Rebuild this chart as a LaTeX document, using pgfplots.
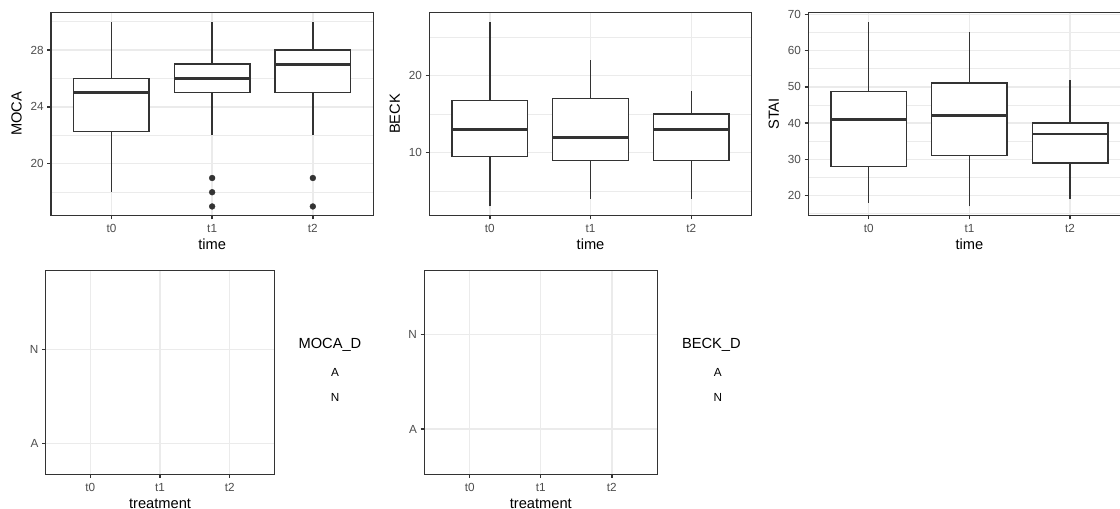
\documentclass[border=0pt]{standalone}
\usepackage{fontspec}
\setmainfont{Liberation Sans}
\usepackage{pgfplots}
\usepackage{pgfplotstable}
\pgfplotsset{compat=1.18}
\definecolor{grey20}{HTML}{333333}
\definecolor{grey30}{HTML}{4D4D4D}
\definecolor{grey92}{HTML}{EBEBEB}

\newcommand{\ticksize}{\fontsize{8.8}{10}\selectfont}
\newcommand{\titlesize}{\fontsize{11}{13}\selectfont}

% box statistics per time point
\pgfplotstableread{
x lo q1 med q3 hi
1 18 22.25 25 26 30
2 22 25 26 27 30
3 22 25 27 28 30
}\moca
\pgfplotstableread{
x lo q1 med q3 hi
1 3 9.5 13 16.75 27
2 4 9 12 17 22
3 4 9 13 15 18
}\beck
\pgfplotstableread{
x lo q1 med q3 hi
1 18 28 41 48.75 68
2 17 31 42 51 65
3 19 29 37 40 52
}\stai

\pgfplotsset{
  gg/.style={
    scale only axis,
    anchor=north west,
    axis line style={draw=grey20, line width=1.07pt},
    tick style={draw=grey20, line width=1.07pt},
    tick align=outside, major tick length=2.75pt, minor tick length=0pt,
    tick pos=left,
    xtick={1,2,3}, xticklabels={t0,t1,t2},
    xmajorgrids, ymajorgrids,
    major grid style={draw=grey92, line width=1.07pt},
    minor grid style={draw=grey92, line width=0.53pt},
    /pgf/number format/assume math mode=true,
    tick label style={font=\ticksize, text=grey30, inner sep=0pt},
    xticklabel style={anchor=base, yshift=-9.8pt},
    yticklabel style={anchor=east, xshift=-2.6pt},
    every axis x label/.style={at={(rel axis cs:0.5,0)}, yshift=-25.3pt, anchor=base, font=\titlesize},
    every axis y label/.style={at={(rel axis cs:0,0.5)}, xshift=-25.9pt, rotate=90, anchor=center, font=\titlesize},
  },
  toprow/.style={gg, width=241.7pt, height=152.55pt, xmin=0.4, xmax=3.6, yminorgrids, xlabel={time}},
  botrow/.style={gg, height=152.7pt, xmin=0.36, xmax=3.64, ytick={1,2}, yticklabels={A,N}, xlabel={treatment}},
  whisk/.style={draw=none, mark=none, error bars/.cd, y dir=plus, y explicit, error mark=none,
    error bar style={draw=grey20, solid, line width=1.07pt}},
  med/.style={draw=none, mark=none, error bars/.cd, x dir=both, x fixed=0.375, error mark=none,
    error bar style={draw=grey20, solid, line width=2.13pt}},
  bx/.style={fill=white, draw=grey20, line width=1.07pt, line join=miter, line cap=rect, mark=none},
  outl/.style={only marks, mark=*, mark size=2.2pt, mark options={draw=grey20, fill=grey20, line width=0.3pt}},
}

\begin{document}
\begin{tikzpicture}
% MOCA
\begin{axis}[toprow, at={(38.25pt,-9.225pt)}, ymin=16.35, ymax=30.65,
  ytick={20,24,28}, minor ytick={18,22,26,30}, ylabel={MOCA}]
\addplot[whisk] table[x=x, y=lo, y error expr=\thisrow{hi}-\thisrow{lo}] {\moca};
\addplot[bx] coordinates {(0.625,22.25) (1.375,22.25) (1.375,26) (0.625,26) (0.625,22.25)};
\addplot[bx] coordinates {(1.625,25) (2.375,25) (2.375,27) (1.625,27) (1.625,25)};
\addplot[bx] coordinates {(2.625,25) (3.375,25) (3.375,28) (2.625,28) (2.625,25)};
\addplot[med] table[x=x, y=med] {\moca};
\addplot[outl] coordinates {(2,19) (2,18) (2,17) (3,19) (3,17)};
\end{axis}
% BECK
\begin{axis}[toprow, at={(322.05pt,-9.225pt)}, ymin=1.8, ymax=28.2,
  ytick={10,20}, minor ytick={5,15,25}, ylabel={BECK}]
\addplot[whisk] table[x=x, y=lo, y error expr=\thisrow{hi}-\thisrow{lo}] {\beck};
\addplot[bx] coordinates {(0.625,9.5) (1.375,9.5) (1.375,16.75) (0.625,16.75) (0.625,9.5)};
\addplot[bx] coordinates {(1.625,9) (2.375,9) (2.375,17) (1.625,17) (1.625,9)};
\addplot[bx] coordinates {(2.625,9) (3.375,9) (3.375,15) (2.625,15) (2.625,9)};
\addplot[med] table[x=x, y=med] {\beck};
\end{axis}
% STAI
\begin{axis}[toprow, at={(606.2pt,-9.225pt)}, ymin=14.45, ymax=70.55,
  ytick={20,30,40,50,60,70}, minor ytick={15,25,35,45,55,65}, ylabel={STAI}]
\addplot[whisk] table[x=x, y=lo, y error expr=\thisrow{hi}-\thisrow{lo}] {\stai};
\addplot[bx] coordinates {(0.625,28) (1.375,28) (1.375,48.75) (0.625,48.75) (0.625,28)};
\addplot[bx] coordinates {(1.625,31) (2.375,31) (2.375,51) (1.625,51) (1.625,31)};
\addplot[bx] coordinates {(2.625,29) (3.375,29) (3.375,40) (2.625,40) (2.625,29)};
\addplot[med] table[x=x, y=med] {\stai};
\end{axis}
% MOCA_D
\begin{axis}[botrow, at={(34.3pt,-203.0pt)}, width=171.45pt, ymin=0.673, ymax=2.841]
\end{axis}
\node[anchor=base west, inner sep=0pt, font=\titlesize] at (223.7pt,-261.75pt) {MOCA\_D};
\node[anchor=base, inner sep=0pt, font=\ticksize] at (251.25pt,-282pt) {A};
\node[anchor=base, inner sep=0pt, font=\ticksize] at (251.25pt,-301pt) {N};
% BECK_D
\begin{axis}[botrow, at={(318.2pt,-203.0pt)}, width=174.75pt, ymin=0.522, ymax=2.672]
\end{axis}
\node[anchor=base west, inner sep=0pt, font=\titlesize] at (511.3pt,-261.75pt) {BECK\_D};
\node[anchor=base, inner sep=0pt, font=\ticksize] at (538.3pt,-282pt) {A};
\node[anchor=base, inner sep=0pt, font=\ticksize] at (538.3pt,-301pt) {N};
\pgfresetboundingbox
\path[use as bounding box] (0,0) rectangle (840pt,-381.75pt);
\end{tikzpicture}
\end{document}
